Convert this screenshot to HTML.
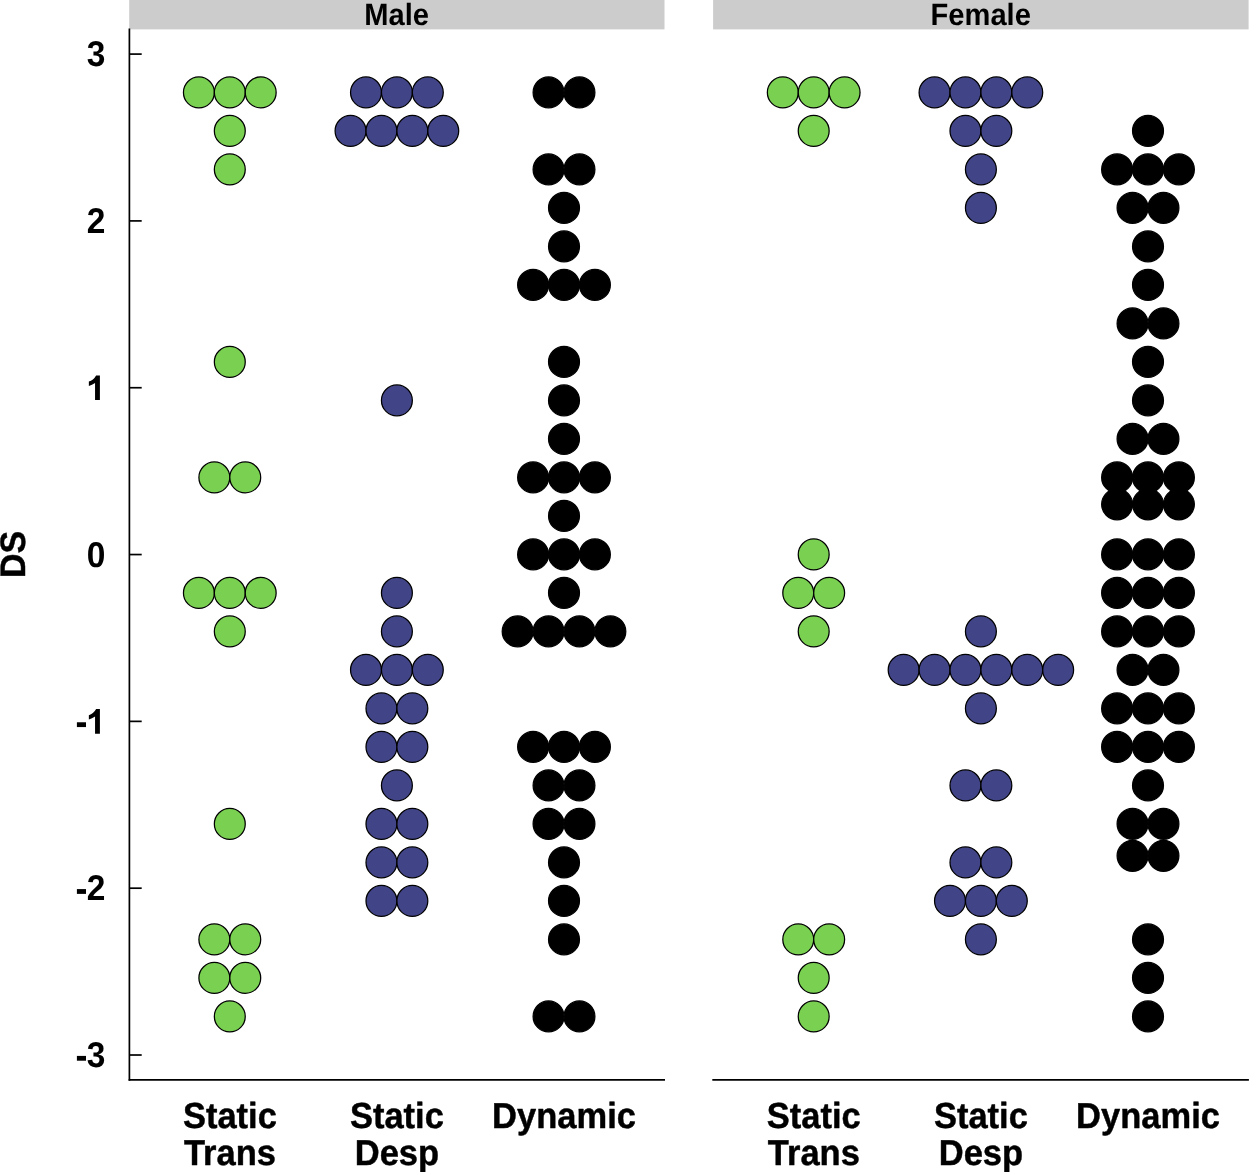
<!DOCTYPE html>
<html><head><meta charset="utf-8"><style>
html,body{margin:0;padding:0;background:#fff;width:1250px;height:1172px;overflow:hidden}
svg{display:block;will-change:transform}
text{font-size:100px;font-family:"Liberation Sans",sans-serif;font-weight:bold;fill:#000;text-rendering:geometricPrecision}
</style></head><body>
<svg width="1250" height="1172" viewBox="0 0 1250 1172">
<rect x="129.2" y="0" width="535.3" height="29.4" fill="#CCCCCC"/>
<rect x="713.1" y="0" width="535.5" height="29.4" fill="#CCCCCC"/>
<text transform="translate(396.65,25.2) scale(0.2910,0.3080)" text-anchor="middle">Male</text>
<text transform="translate(980.7,25.1) scale(0.2910,0.3080)" text-anchor="middle">Female</text>
<g stroke="#000" stroke-width="1.25">
<circle cx="198.90" cy="92.40" r="15.45" fill="#7AD151"/>
<circle cx="229.80" cy="92.40" r="15.45" fill="#7AD151"/>
<circle cx="260.70" cy="92.40" r="15.45" fill="#7AD151"/>
<circle cx="229.80" cy="130.90" r="15.45" fill="#7AD151"/>
<circle cx="229.80" cy="169.40" r="15.45" fill="#7AD151"/>
<circle cx="229.80" cy="361.90" r="15.45" fill="#7AD151"/>
<circle cx="214.35" cy="477.40" r="15.45" fill="#7AD151"/>
<circle cx="245.25" cy="477.40" r="15.45" fill="#7AD151"/>
<circle cx="198.90" cy="592.90" r="15.45" fill="#7AD151"/>
<circle cx="229.80" cy="592.90" r="15.45" fill="#7AD151"/>
<circle cx="260.70" cy="592.90" r="15.45" fill="#7AD151"/>
<circle cx="229.80" cy="631.40" r="15.45" fill="#7AD151"/>
<circle cx="229.80" cy="823.90" r="15.45" fill="#7AD151"/>
<circle cx="214.35" cy="939.40" r="15.45" fill="#7AD151"/>
<circle cx="245.25" cy="939.40" r="15.45" fill="#7AD151"/>
<circle cx="214.35" cy="977.90" r="15.45" fill="#7AD151"/>
<circle cx="245.25" cy="977.90" r="15.45" fill="#7AD151"/>
<circle cx="229.80" cy="1016.40" r="15.45" fill="#7AD151"/>
<circle cx="366.00" cy="92.40" r="15.45" fill="#414487"/>
<circle cx="396.90" cy="92.40" r="15.45" fill="#414487"/>
<circle cx="427.80" cy="92.40" r="15.45" fill="#414487"/>
<circle cx="350.55" cy="130.90" r="15.45" fill="#414487"/>
<circle cx="381.45" cy="130.90" r="15.45" fill="#414487"/>
<circle cx="412.35" cy="130.90" r="15.45" fill="#414487"/>
<circle cx="443.25" cy="130.90" r="15.45" fill="#414487"/>
<circle cx="396.90" cy="400.40" r="15.45" fill="#414487"/>
<circle cx="396.90" cy="592.90" r="15.45" fill="#414487"/>
<circle cx="396.90" cy="631.40" r="15.45" fill="#414487"/>
<circle cx="366.00" cy="669.90" r="15.45" fill="#414487"/>
<circle cx="396.90" cy="669.90" r="15.45" fill="#414487"/>
<circle cx="427.80" cy="669.90" r="15.45" fill="#414487"/>
<circle cx="381.45" cy="708.40" r="15.45" fill="#414487"/>
<circle cx="412.35" cy="708.40" r="15.45" fill="#414487"/>
<circle cx="381.45" cy="746.90" r="15.45" fill="#414487"/>
<circle cx="412.35" cy="746.90" r="15.45" fill="#414487"/>
<circle cx="396.90" cy="785.40" r="15.45" fill="#414487"/>
<circle cx="381.45" cy="823.90" r="15.45" fill="#414487"/>
<circle cx="412.35" cy="823.90" r="15.45" fill="#414487"/>
<circle cx="381.45" cy="862.40" r="15.45" fill="#414487"/>
<circle cx="412.35" cy="862.40" r="15.45" fill="#414487"/>
<circle cx="381.45" cy="900.90" r="15.45" fill="#414487"/>
<circle cx="412.35" cy="900.90" r="15.45" fill="#414487"/>
<circle cx="548.55" cy="92.40" r="15.45" fill="#000000"/>
<circle cx="579.45" cy="92.40" r="15.45" fill="#000000"/>
<circle cx="548.55" cy="169.40" r="15.45" fill="#000000"/>
<circle cx="579.45" cy="169.40" r="15.45" fill="#000000"/>
<circle cx="564.00" cy="207.90" r="15.45" fill="#000000"/>
<circle cx="564.00" cy="246.40" r="15.45" fill="#000000"/>
<circle cx="533.10" cy="284.90" r="15.45" fill="#000000"/>
<circle cx="564.00" cy="284.90" r="15.45" fill="#000000"/>
<circle cx="594.90" cy="284.90" r="15.45" fill="#000000"/>
<circle cx="564.00" cy="361.90" r="15.45" fill="#000000"/>
<circle cx="564.00" cy="400.40" r="15.45" fill="#000000"/>
<circle cx="564.00" cy="438.90" r="15.45" fill="#000000"/>
<circle cx="533.10" cy="477.40" r="15.45" fill="#000000"/>
<circle cx="564.00" cy="477.40" r="15.45" fill="#000000"/>
<circle cx="594.90" cy="477.40" r="15.45" fill="#000000"/>
<circle cx="564.00" cy="515.90" r="15.45" fill="#000000"/>
<circle cx="533.10" cy="554.40" r="15.45" fill="#000000"/>
<circle cx="564.00" cy="554.40" r="15.45" fill="#000000"/>
<circle cx="594.90" cy="554.40" r="15.45" fill="#000000"/>
<circle cx="564.00" cy="592.90" r="15.45" fill="#000000"/>
<circle cx="517.65" cy="631.40" r="15.45" fill="#000000"/>
<circle cx="548.55" cy="631.40" r="15.45" fill="#000000"/>
<circle cx="579.45" cy="631.40" r="15.45" fill="#000000"/>
<circle cx="610.35" cy="631.40" r="15.45" fill="#000000"/>
<circle cx="533.10" cy="746.90" r="15.45" fill="#000000"/>
<circle cx="564.00" cy="746.90" r="15.45" fill="#000000"/>
<circle cx="594.90" cy="746.90" r="15.45" fill="#000000"/>
<circle cx="548.55" cy="785.40" r="15.45" fill="#000000"/>
<circle cx="579.45" cy="785.40" r="15.45" fill="#000000"/>
<circle cx="548.55" cy="823.90" r="15.45" fill="#000000"/>
<circle cx="579.45" cy="823.90" r="15.45" fill="#000000"/>
<circle cx="564.00" cy="862.40" r="15.45" fill="#000000"/>
<circle cx="564.00" cy="900.90" r="15.45" fill="#000000"/>
<circle cx="564.00" cy="939.40" r="15.45" fill="#000000"/>
<circle cx="548.55" cy="1016.40" r="15.45" fill="#000000"/>
<circle cx="579.45" cy="1016.40" r="15.45" fill="#000000"/>
<circle cx="782.80" cy="92.40" r="15.45" fill="#7AD151"/>
<circle cx="813.70" cy="92.40" r="15.45" fill="#7AD151"/>
<circle cx="844.60" cy="92.40" r="15.45" fill="#7AD151"/>
<circle cx="813.70" cy="130.90" r="15.45" fill="#7AD151"/>
<circle cx="813.70" cy="554.40" r="15.45" fill="#7AD151"/>
<circle cx="798.25" cy="592.90" r="15.45" fill="#7AD151"/>
<circle cx="829.15" cy="592.90" r="15.45" fill="#7AD151"/>
<circle cx="813.70" cy="631.40" r="15.45" fill="#7AD151"/>
<circle cx="798.25" cy="939.40" r="15.45" fill="#7AD151"/>
<circle cx="829.15" cy="939.40" r="15.45" fill="#7AD151"/>
<circle cx="813.70" cy="977.90" r="15.45" fill="#7AD151"/>
<circle cx="813.70" cy="1016.40" r="15.45" fill="#7AD151"/>
<circle cx="934.55" cy="92.40" r="15.45" fill="#414487"/>
<circle cx="965.45" cy="92.40" r="15.45" fill="#414487"/>
<circle cx="996.35" cy="92.40" r="15.45" fill="#414487"/>
<circle cx="1027.25" cy="92.40" r="15.45" fill="#414487"/>
<circle cx="965.45" cy="130.90" r="15.45" fill="#414487"/>
<circle cx="996.35" cy="130.90" r="15.45" fill="#414487"/>
<circle cx="980.90" cy="169.40" r="15.45" fill="#414487"/>
<circle cx="980.90" cy="207.90" r="15.45" fill="#414487"/>
<circle cx="980.90" cy="631.40" r="15.45" fill="#414487"/>
<circle cx="903.65" cy="669.90" r="15.45" fill="#414487"/>
<circle cx="934.55" cy="669.90" r="15.45" fill="#414487"/>
<circle cx="965.45" cy="669.90" r="15.45" fill="#414487"/>
<circle cx="996.35" cy="669.90" r="15.45" fill="#414487"/>
<circle cx="1027.25" cy="669.90" r="15.45" fill="#414487"/>
<circle cx="1058.15" cy="669.90" r="15.45" fill="#414487"/>
<circle cx="980.90" cy="708.40" r="15.45" fill="#414487"/>
<circle cx="965.45" cy="785.40" r="15.45" fill="#414487"/>
<circle cx="996.35" cy="785.40" r="15.45" fill="#414487"/>
<circle cx="965.45" cy="862.40" r="15.45" fill="#414487"/>
<circle cx="996.35" cy="862.40" r="15.45" fill="#414487"/>
<circle cx="950.00" cy="900.90" r="15.45" fill="#414487"/>
<circle cx="980.90" cy="900.90" r="15.45" fill="#414487"/>
<circle cx="1011.80" cy="900.90" r="15.45" fill="#414487"/>
<circle cx="980.90" cy="939.40" r="15.45" fill="#414487"/>
<circle cx="1148.00" cy="130.90" r="15.45" fill="#000000"/>
<circle cx="1117.10" cy="169.40" r="15.45" fill="#000000"/>
<circle cx="1148.00" cy="169.40" r="15.45" fill="#000000"/>
<circle cx="1178.90" cy="169.40" r="15.45" fill="#000000"/>
<circle cx="1132.55" cy="207.90" r="15.45" fill="#000000"/>
<circle cx="1163.45" cy="207.90" r="15.45" fill="#000000"/>
<circle cx="1148.00" cy="246.40" r="15.45" fill="#000000"/>
<circle cx="1148.00" cy="284.90" r="15.45" fill="#000000"/>
<circle cx="1132.55" cy="323.40" r="15.45" fill="#000000"/>
<circle cx="1163.45" cy="323.40" r="15.45" fill="#000000"/>
<circle cx="1148.00" cy="361.90" r="15.45" fill="#000000"/>
<circle cx="1148.00" cy="400.40" r="15.45" fill="#000000"/>
<circle cx="1132.55" cy="438.90" r="15.45" fill="#000000"/>
<circle cx="1163.45" cy="438.90" r="15.45" fill="#000000"/>
<circle cx="1117.10" cy="477.40" r="15.45" fill="#000000"/>
<circle cx="1148.00" cy="477.40" r="15.45" fill="#000000"/>
<circle cx="1178.90" cy="477.40" r="15.45" fill="#000000"/>
<circle cx="1117.10" cy="504.30" r="15.45" fill="#000000"/>
<circle cx="1148.00" cy="504.30" r="15.45" fill="#000000"/>
<circle cx="1178.90" cy="504.30" r="15.45" fill="#000000"/>
<circle cx="1117.10" cy="554.40" r="15.45" fill="#000000"/>
<circle cx="1148.00" cy="554.40" r="15.45" fill="#000000"/>
<circle cx="1178.90" cy="554.40" r="15.45" fill="#000000"/>
<circle cx="1117.10" cy="592.90" r="15.45" fill="#000000"/>
<circle cx="1148.00" cy="592.90" r="15.45" fill="#000000"/>
<circle cx="1178.90" cy="592.90" r="15.45" fill="#000000"/>
<circle cx="1117.10" cy="631.40" r="15.45" fill="#000000"/>
<circle cx="1148.00" cy="631.40" r="15.45" fill="#000000"/>
<circle cx="1178.90" cy="631.40" r="15.45" fill="#000000"/>
<circle cx="1132.55" cy="669.90" r="15.45" fill="#000000"/>
<circle cx="1163.45" cy="669.90" r="15.45" fill="#000000"/>
<circle cx="1117.10" cy="708.40" r="15.45" fill="#000000"/>
<circle cx="1148.00" cy="708.40" r="15.45" fill="#000000"/>
<circle cx="1178.90" cy="708.40" r="15.45" fill="#000000"/>
<circle cx="1117.10" cy="746.90" r="15.45" fill="#000000"/>
<circle cx="1148.00" cy="746.90" r="15.45" fill="#000000"/>
<circle cx="1178.90" cy="746.90" r="15.45" fill="#000000"/>
<circle cx="1148.00" cy="785.40" r="15.45" fill="#000000"/>
<circle cx="1132.55" cy="823.90" r="15.45" fill="#000000"/>
<circle cx="1163.45" cy="823.90" r="15.45" fill="#000000"/>
<circle cx="1132.55" cy="855.80" r="15.45" fill="#000000"/>
<circle cx="1163.45" cy="855.80" r="15.45" fill="#000000"/>
<circle cx="1148.00" cy="939.40" r="15.45" fill="#000000"/>
<circle cx="1148.00" cy="977.90" r="15.45" fill="#000000"/>
<circle cx="1148.00" cy="1016.40" r="15.45" fill="#000000"/>
</g>
<g stroke="#000" stroke-width="1.7" stroke-linecap="butt" fill="none">
<line x1="129.4" y1="28.6" x2="129.4" y2="1080.7"/>
<line x1="128.65" y1="1079.95" x2="665.0" y2="1079.95"/>
<line x1="712.3" y1="1079.95" x2="1248.9" y2="1079.95"/>
<line x1="129.4" y1="54.09" x2="141.7" y2="54.09"/>
<line x1="129.4" y1="220.91" x2="141.7" y2="220.91"/>
<line x1="129.4" y1="387.73" x2="141.7" y2="387.73"/>
<line x1="129.4" y1="554.55" x2="141.7" y2="554.55"/>
<line x1="129.4" y1="721.37" x2="141.7" y2="721.37"/>
<line x1="129.4" y1="888.19" x2="141.7" y2="888.19"/>
<line x1="129.4" y1="1055.01" x2="141.7" y2="1055.01"/>
</g>
<g>
<text transform="translate(105.3,66.39) scale(0.3350,0.3580)" text-anchor="end">3</text>
<text transform="translate(105.3,233.21) scale(0.3350,0.3580)" text-anchor="end">2</text>
<path d="M99.90,375.45 L96.10,375.45 Q93.33,380.57 88.85,381.53 L88.85,385.93 Q92.00,384.73 95.05,382.90 L95.05,400.10 L99.90,400.10 Z"/>
<text transform="translate(105.3,566.85) scale(0.3350,0.3580)" text-anchor="end">0</text>
<rect x="76.9" y="722.27" width="9.1" height="4.8"/>
<path d="M99.90,709.09 L96.10,709.09 Q93.33,714.21 88.85,715.17 L88.85,719.57 Q92.00,718.37 95.05,716.54 L95.05,733.74 L99.90,733.74 Z"/>
<rect x="76.9" y="889.09" width="9.1" height="4.8"/>
<text transform="translate(105.3,900.49) scale(0.3350,0.3580)" text-anchor="end">2</text>
<rect x="76.9" y="1055.91" width="9.1" height="4.8"/>
<text transform="translate(105.3,1067.31) scale(0.3350,0.3580)" text-anchor="end">3</text>
</g>
<g text-anchor="middle" stroke="#000" stroke-width="1.3" stroke-linejoin="round">
<text transform="translate(229.9,1128.2) scale(0.3450,0.3610)">Static</text>
<text transform="translate(229.9,1165.0) scale(0.3450,0.3610)">Trans</text>
<text transform="translate(396.9,1128.2) scale(0.3450,0.3610)">Static</text>
<text transform="translate(396.9,1165.0) scale(0.3450,0.3610)">Desp</text>
<text transform="translate(564.0,1128.2) scale(0.3450,0.3610)">Dynamic</text>
<text transform="translate(813.8,1128.2) scale(0.3450,0.3610)">Static</text>
<text transform="translate(813.8,1165.0) scale(0.3450,0.3610)">Trans</text>
<text transform="translate(980.9,1128.2) scale(0.3450,0.3610)">Static</text>
<text transform="translate(980.9,1165.0) scale(0.3450,0.3610)">Desp</text>
<text transform="translate(1148.0,1128.2) scale(0.3450,0.3610)">Dynamic</text>
</g>
<text transform="translate(24.9,554.4) rotate(-90) scale(0.3400,0.3540)" text-anchor="middle" stroke="#000" stroke-width="1.3" stroke-linejoin="round">DS</text>
</svg>
</body></html>
